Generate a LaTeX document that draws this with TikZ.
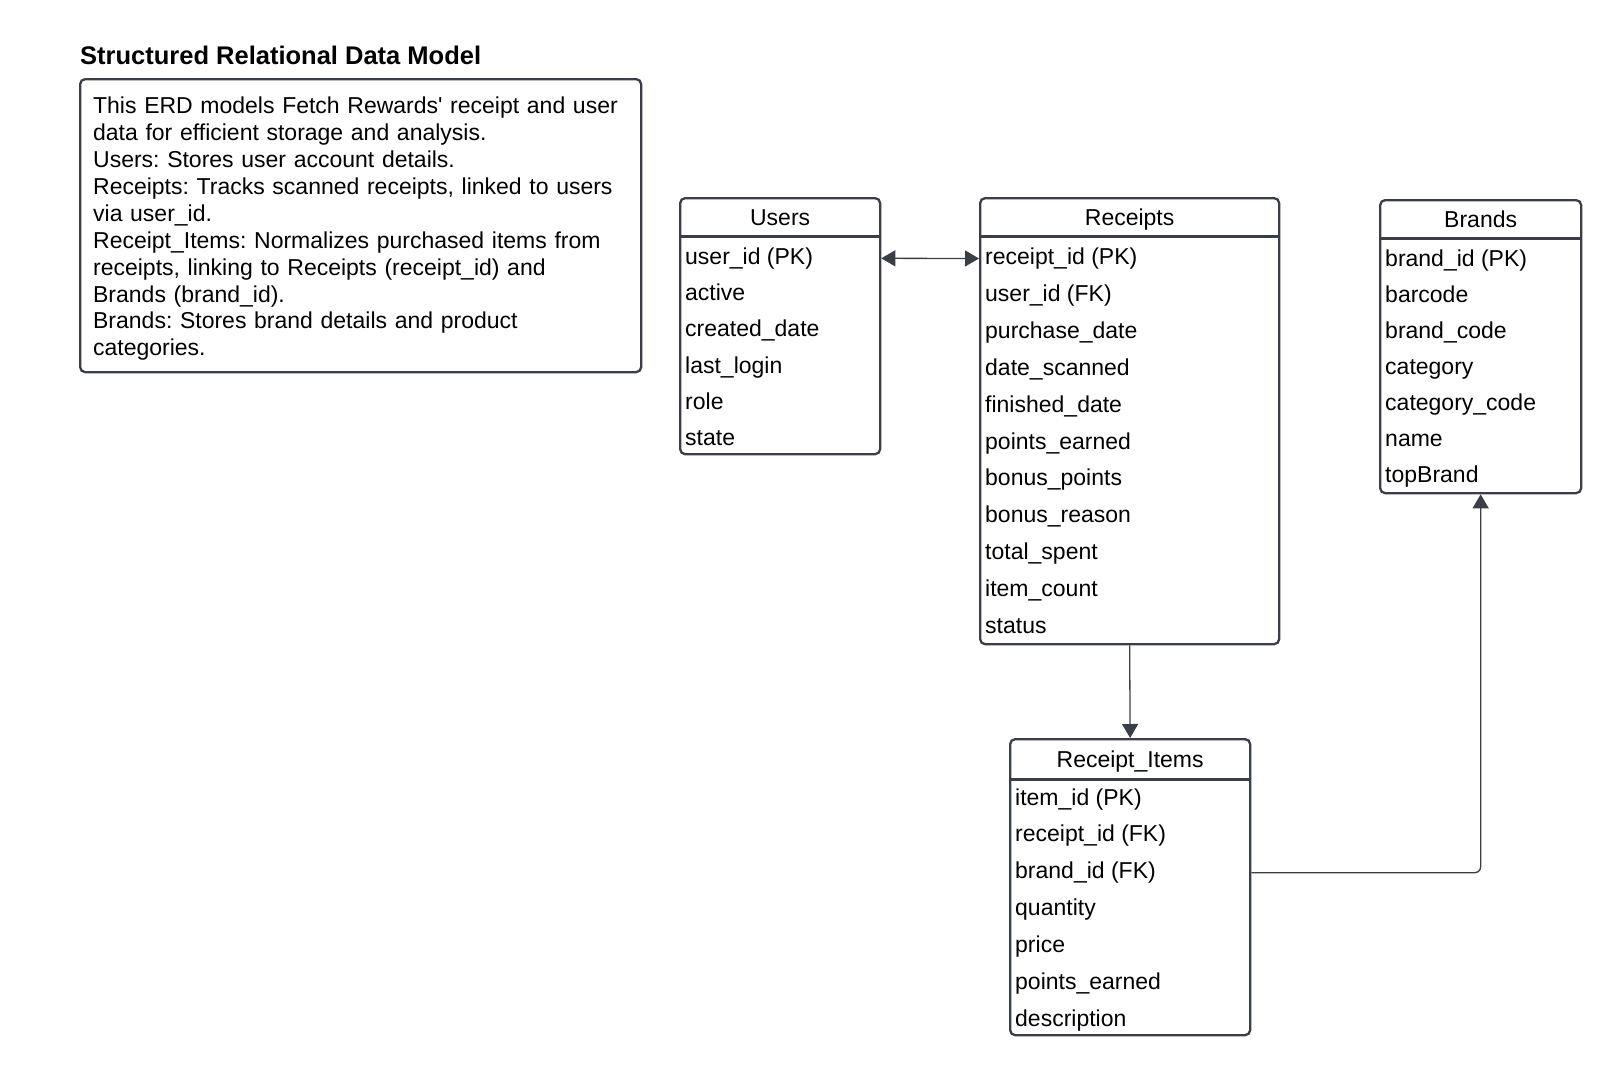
\documentclass[tikz,border=0pt]{standalone}
\usepackage{fontspec}
\setmainfont{Liberation Sans}
\usetikzlibrary{arrows.meta}

\definecolor{erdline}{RGB}{58,63,71}

\tikzset{
	erdtip/.tip={Triangle[length=14pt,width=16pt]},
	tablebox/.style={draw=erdline, line width=2.3pt, rounded corners=5pt, anchor=north west, inner sep=0pt},
	tabhead/.style={anchor=north, inner sep=0pt, minimum height=39pt, text height=20pt, text depth=2pt, font=\fontsize{23}{27}\selectfont},
	field/.style={anchor=west, inner sep=0pt, text height=17pt, text depth=5pt, font=\fontsize{23}{27}\selectfont},
	notebox/.style={draw=erdline, line width=2.3pt, rounded corners=5pt, anchor=north west, inner xsep=13pt, inner ysep=0pt,
		text width=535pt, minimum height=293pt, align=left, font=\fontsize{23}{26.9}\selectfont},
	rowline/.style={draw=erdline, line width=2.3pt},
	conn/.style={draw=erdline, line width=1.3pt, -erdtip},
}

\begin{document}
\frenchspacing
\begin{tikzpicture}[x=1pt,y=-1pt]
	\useasboundingbox (0,0) rectangle (1620,1077);

	% title and note
	\node[anchor=base west, inner sep=0pt, font=\bfseries\fontsize{25.5}{30}\selectfont] (title) at (80,64) {Structured Relational Data Model};
	\node[notebox] (note) at (79,78) {\rule{0pt}{23pt}This ERD models Fetch Rewards\textquotesingle{} receipt and user\\
		data for efficient storage and analysis.\\
		Users: Stores user account details.\\
		Receipts: Tracks scanned receipts, linked to users\\
		via user\_id.\\
		Receipt\_Items: Normalizes purchased items from\\
		receipts, linking to Receipts (receipt\_id) and\\
		Brands (brand\_id).\\
		Brands: Stores brand details and product\\
		categories.};

	% Users
	\node[tablebox, minimum width=200pt, minimum height=256pt] (users) at (679,197) {};
	\node[tabhead, minimum width=200pt] (usershead) at (users.north) {Users};
	\draw[rowline] (usershead.south west) -- (usershead.south east);
	\foreach \f [count=\i] in {user\_id (PK),active,created\_date,last\_login,role,state}
		\node[field] (u\i) at (685,{222+36.3*\i}) {\f};

	% Receipts
	\node[tablebox, minimum width=299pt, minimum height=446pt] (receipts) at (979,197) {};
	\node[tabhead, minimum width=299pt] (receiptshead) at (receipts.north) {Receipts};
	\draw[rowline] (receiptshead.south west) -- (receiptshead.south east);
	\foreach \f [count=\i] in {receipt\_id (PK),user\_id (FK),purchase\_date,date\_scanned,finished\_date,
		points\_earned,bonus\_points,bonus\_reason,total\_spent,item\_count,status}
		\node[field] (r\i) at (985,{221.6+36.9*\i}) {\f};

	% Brands
	\node[tablebox, minimum width=201pt, minimum height=293pt] (brands) at (1379,199) {};
	\node[tabhead, minimum width=201pt] (brandshead) at (brands.north) {Brands};
	\draw[rowline] (brandshead.south west) -- (brandshead.south east);
	\foreach \f [count=\i] in {brand\_id (PK),barcode,brand\_code,category,category\_code,name,topBrand}
		\node[field] (b\i) at (1385,{224.6+35.93*\i}) {\f};

	% Receipt_Items
	\node[tablebox, minimum width=240pt, minimum height=296pt] (items) at (1009,738) {};
	\node[tabhead, minimum width=240pt, minimum height=41pt] (itemshead) at (items.north) {Receipt\_Items};
	\draw[rowline] (itemshead.south west) -- (itemshead.south east);
	\foreach \f [count=\i] in {item\_id (PK),receipt\_id (FK),brand\_id (FK),quantity,price,points\_earned,description}
		\node[field] (i\i) at (1015,{762.15+36.85*\i}) {\f};

	% relations
	\draw[conn, erdtip-erdtip] (users.east |- u1) -- (receipts.west |- r1);
	\draw[conn] (receipts.south) -- (items.north);
	\draw[conn, rounded corners=6pt] (items.east |- i3) -| (brands.south);
\end{tikzpicture}
\end{document}
